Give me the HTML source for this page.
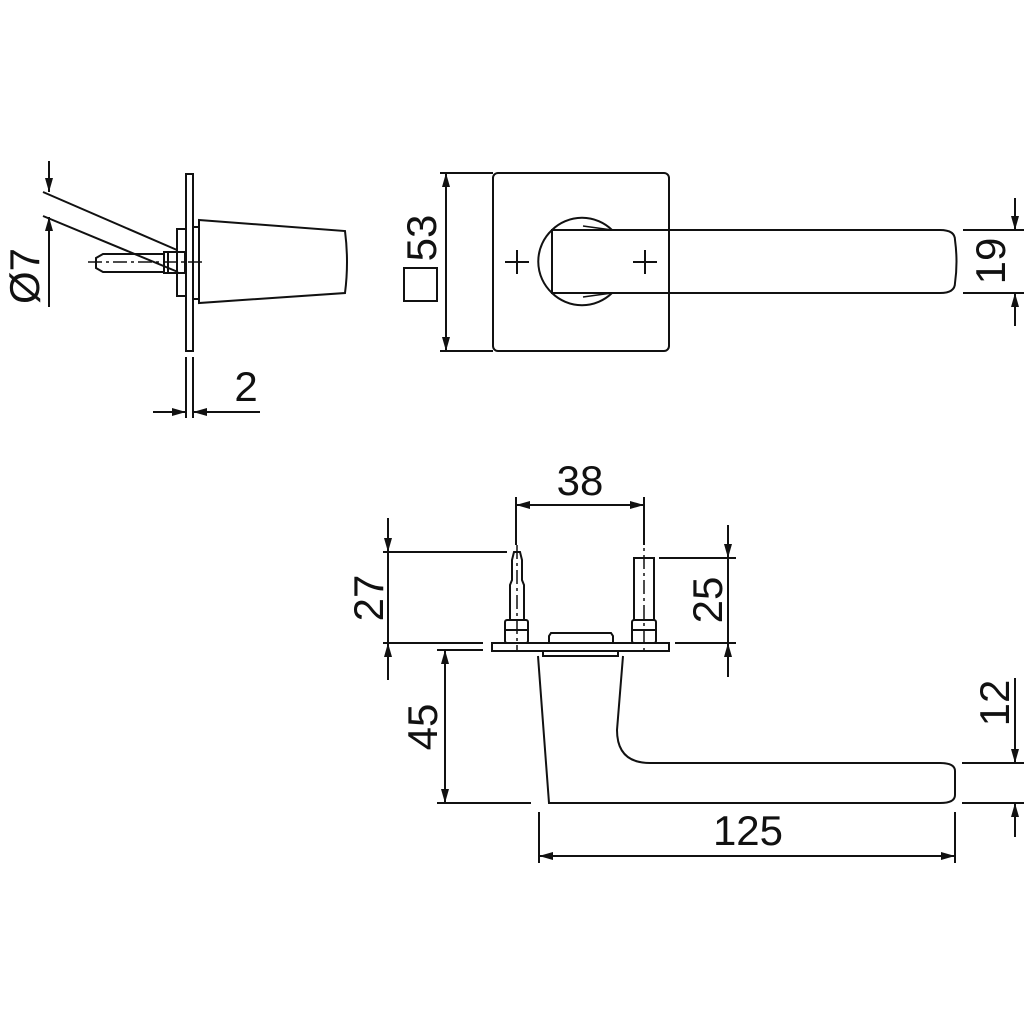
<!DOCTYPE html>
<html><head><meta charset="utf-8"><style>
html,body{margin:0;padding:0;background:#fff;}
svg{display:block;}
text{font-family:"Liberation Sans",sans-serif;fill:#111;}
</style></head><body>
<svg width="1024" height="1024" viewBox="0 0 1024 1024" xmlns="http://www.w3.org/2000/svg">
<defs>
<marker id="a" viewBox="0 0 14 8" refX="14" refY="4" markerWidth="14" markerHeight="8" markerUnits="userSpaceOnUse" orient="auto-start-reverse">
<path d="M0,0 L14,4 L0,8 Z" fill="#111"/></marker>
</defs>
<g fill="none" stroke="#111" stroke-width="2">
<!-- Side view -->
<rect x="186" y="174" width="7" height="177"/>
<rect x="193" y="227" width="6" height="72"/>
<path d="M199,220 L345,231 Q349,262 345,293 L199,303 Z"/>
<path d="M186,229 L177,229 L177,296 L186,296"/>
<rect x="164" y="252" width="21" height="21"/>
<line x1="168" y1="252" x2="168" y2="273"/>
<path d="M164,254 L103,254 L96,258 L96,268 L103,272 L164,272"/>
<line x1="88" y1="262" x2="205" y2="262" stroke-dasharray="14,4,3,4" stroke-width="1.5"/>
<!-- Ø7 -->
<line x1="49" y1="161" x2="49" y2="192" marker-end="url(#a)"/>
<line x1="49" y1="307" x2="49" y2="217" marker-end="url(#a)"/>
<line x1="43" y1="192" x2="177" y2="250"/>
<line x1="43" y1="216" x2="178" y2="272"/>
<!-- 2 -->
<line x1="186" y1="357" x2="186" y2="418"/>
<line x1="193" y1="357" x2="193" y2="418"/>
<line x1="153" y1="412" x2="186" y2="412" marker-end="url(#a)"/>
<line x1="260" y1="412" x2="193" y2="412" marker-end="url(#a)"/>

<!-- Front view -->
<rect x="493" y="173" width="176" height="178" rx="5"/>
<path d="M552,230 A43,43 0 0 1 612,230"/>
<path d="M552,293 A43,43 0 0 0 612,293"/>
<path d="M552,230 A43,43 0 0 0 552,293"/>
<path d="M552,230 L940,230 Q955,230 955,240 Q958,262 955,283 Q955,293 940,293 L552,293 Z"/>
<line x1="583" y1="226" x2="612" y2="230" stroke-width="1.5"/>
<line x1="583" y1="297" x2="612" y2="293" stroke-width="1.5"/>
<line x1="505" y1="262" x2="529" y2="262"/><line x1="517" y1="250" x2="517" y2="274"/>
<line x1="633" y1="262" x2="657" y2="262"/><line x1="645" y1="250" x2="645" y2="274"/>
<!-- 53 -->
<line x1="440" y1="173" x2="493" y2="173"/>
<line x1="440" y1="351" x2="493" y2="351"/>
<line x1="446" y1="262" x2="446" y2="173" marker-end="url(#a)"/>
<line x1="446" y1="262" x2="446" y2="351" marker-end="url(#a)"/>
<rect x="404" y="268" width="33" height="33"/>
<!-- 19 -->
<line x1="963" y1="230" x2="1024" y2="230"/>
<line x1="963" y1="293" x2="1024" y2="293"/>
<line x1="1015" y1="198" x2="1015" y2="230" marker-end="url(#a)"/>
<line x1="1015" y1="326" x2="1015" y2="293" marker-end="url(#a)"/>

<!-- Bottom view -->
<rect x="492" y="643" width="177" height="8"/>
<path d="M549,643 L549,636 L551,633 L611,633 L613,636 L613,643"/>
<rect x="543" y="651" width="75" height="5"/>
<path d="M538,656 L549,803 L940,803 Q955,803 955,795 L955,771 Q955,763 940,763 L650,763 Q617,763 617,730 L623,656"/>
<!-- studs -->
<path d="M510,620 L510,585 L512,580 L512,560 L514,552 L520,552 L522,560 L522,580 L524,585 L524,620"/>
<rect x="505" y="620" width="23" height="23" rx="2"/>
<line x1="505" y1="630" x2="528" y2="630"/>
<rect x="634" y="558" width="20" height="62"/>
<rect x="632" y="620" width="24" height="23" rx="2"/>
<line x1="632" y1="630" x2="656" y2="630"/>
<line x1="517" y1="545" x2="517" y2="652" stroke-dasharray="14,4,3,4" stroke-width="1.5"/>
<line x1="644" y1="530" x2="644" y2="652" stroke-dasharray="14,4,3,4" stroke-width="1.5"/>
<!-- 38 -->
<line x1="516" y1="497" x2="516" y2="545"/>
<line x1="644" y1="497" x2="644" y2="545"/>
<line x1="580" y1="505" x2="516" y2="505" marker-end="url(#a)"/>
<line x1="580" y1="505" x2="644" y2="505" marker-end="url(#a)"/>
<!-- 27 -->
<line x1="383" y1="552" x2="507" y2="552"/>
<line x1="383" y1="643" x2="483" y2="643"/>
<line x1="388" y1="518" x2="388" y2="552" marker-end="url(#a)"/>
<line x1="388" y1="680" x2="388" y2="643" marker-end="url(#a)"/>
<line x1="388" y1="552" x2="388" y2="643"/>
<!-- 25 -->
<line x1="659" y1="558" x2="736" y2="558"/>
<line x1="675" y1="643" x2="736" y2="643"/>
<line x1="728" y1="525" x2="728" y2="558" marker-end="url(#a)"/>
<line x1="728" y1="677" x2="728" y2="643" marker-end="url(#a)"/>
<line x1="728" y1="558" x2="728" y2="643"/>
<!-- 45 -->
<line x1="437" y1="650" x2="483" y2="650"/>
<line x1="437" y1="803" x2="531" y2="803"/>
<line x1="445" y1="727" x2="445" y2="650" marker-end="url(#a)"/>
<line x1="445" y1="727" x2="445" y2="803" marker-end="url(#a)"/>
<!-- 12 -->
<line x1="962" y1="763" x2="1024" y2="763"/>
<line x1="962" y1="803" x2="1024" y2="803"/>
<line x1="1015" y1="678" x2="1015" y2="763" marker-end="url(#a)"/>
<line x1="1015" y1="837" x2="1015" y2="803" marker-end="url(#a)"/>
<!-- 125 -->
<line x1="539" y1="812" x2="539" y2="863"/>
<line x1="955" y1="812" x2="955" y2="863"/>
<line x1="747" y1="856" x2="539" y2="856" marker-end="url(#a)"/>
<line x1="747" y1="856" x2="955" y2="856" marker-end="url(#a)"/>
</g>
<g font-size="42">
<text transform="translate(39,276) rotate(-90)" text-anchor="middle">Ø7</text>
<text x="246" y="401" text-anchor="middle">2</text>
<text transform="translate(436,238) rotate(-90)" text-anchor="middle">53</text>
<text transform="translate(1005,261) rotate(-90)" text-anchor="middle">19</text>
<text x="580" y="495" text-anchor="middle">38</text>
<text transform="translate(383,598) rotate(-90)" text-anchor="middle">27</text>
<text transform="translate(722,600) rotate(-90)" text-anchor="middle">25</text>
<text transform="translate(437,727) rotate(-90)" text-anchor="middle">45</text>
<text transform="translate(1009,703) rotate(-90)" text-anchor="middle">12</text>
<text x="748" y="845" text-anchor="middle">125</text>
</g>
</svg>
</body></html>
